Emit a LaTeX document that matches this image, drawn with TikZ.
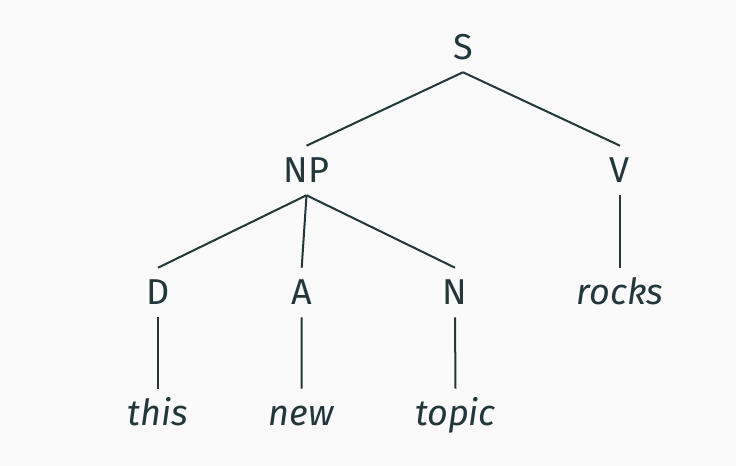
\documentclass[tikz,border=0pt]{standalone}
\usepackage{fontspec}
\setmainfont{Fira Sans}
\definecolor{mdark}{HTML}{23373B}
\definecolor{bgc}{HTML}{FAFAFA}
\begin{document}
\begin{tikzpicture}[x=0.75pt,y=-0.75pt,
  tn/.style={anchor=base, text=mdark, font=\fontsize{27}{32}\selectfont,
    text height=18.75pt, text depth=0pt, inner ysep=9pt, inner xsep=0pt},
  lf/.style={tn, font=\fontsize{27}{32}\selectfont\itshape},
  edge/.style={draw=mdark, line width=1.5pt}]
\fill[bgc] (0,0) rectangle (736,466);
\useasboundingbox (0,0) rectangle (736,466);
\node[tn] (S) at (463,60) {S};
\node[tn] (NP) at (306.5,183) {NP};
\node[tn] (V) at (620,183) {V};
\node[tn] (D) at (158,305) {D};
\node[tn] (A) at (301.7,305) {A};
\node[tn] (N) at (455,305) {N};
\node[lf] (rocks) at (620,305) {rocks};
\node[lf] (this) at (158,426) {this};
\node[lf] (new) at (301.5,426) {new};
\node[lf] (topic) at (455.5,426) {topic};
\draw[edge] (S.south) -- (NP.north);
\draw[edge] (S.south) -- (V.north);
\draw[edge] (NP.south) -- (D.north);
\draw[edge] (NP.south) -- (A.north);
\draw[edge] (NP.south) -- (N.north);
\draw[edge] (V.south) -- (rocks.north);
\draw[edge] (D.south) -- (this.north);
\draw[edge] (A.south) -- (new.north);
\draw[edge] (N.south) -- (topic.north);
\end{tikzpicture}
\end{document}
